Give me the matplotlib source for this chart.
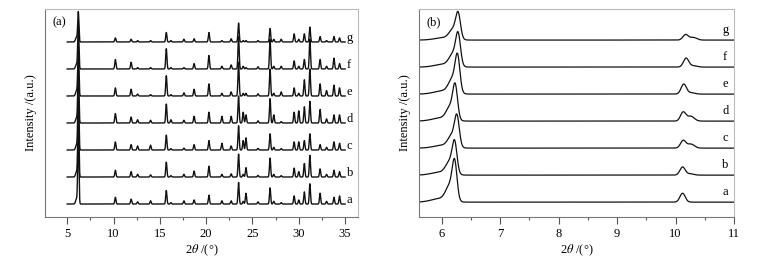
import matplotlib
matplotlib.use("Agg")
import matplotlib.pyplot as plt
from matplotlib.ticker import MultipleLocator
import numpy as np

plt.rcParams['font.family'] = ['Liberation Serif', 'DejaVu Serif']
plt.rcParams['mathtext.fontset'] = 'stix'

samples = ['a', 'b', 'c', 'd', 'e', 'f', 'g']

# panel (a): peak positions (2theta) and heights per sample, in units of the stacking offset
peaks_a = [6.2, 10.2, 11.9, 12.6, 14.0, 15.7, 16.2, 17.6, 18.7, 20.3, 21.7, 22.7, 23.5, 24.0, 24.3,
           25.6, 26.9, 27.3, 28.1, 29.5, 30.0, 30.6, 31.2, 32.3, 33.0, 33.8, 34.4]
heights_a = {
    'a': [2.6, 0.25, 0.18, 0.08, 0.12, 0.50, 0.05, 0.12, 0.15, 0.33, 0.12, 0.12, 0.80, 0.10, 0.40,
          0.08, 0.60, 0.10, 0.05, 0.30, 0.15, 0.45, 0.75, 0.40, 0.10, 0.25, 0.30],
    'b': [2.4, 0.25, 0.20, 0.10, 0.08, 0.55, 0.05, 0.10, 0.22, 0.40, 0.10, 0.12, 0.85, 0.10, 0.35,
          0.06, 0.70, 0.10, 0.05, 0.33, 0.20, 0.50, 0.80, 0.30, 0.10, 0.25, 0.20],
    'c': [2.2, 0.30, 0.20, 0.15, 0.18, 0.55, 0.05, 0.07, 0.20, 0.35, 0.25, 0.15, 0.90, 0.35, 0.45,
          0.06, 0.60, 0.10, 0.05, 0.30, 0.30, 0.35, 0.60, 0.20, 0.10, 0.30, 0.25],
    'd': [2.0, 0.35, 0.22, 0.12, 0.10, 0.70, 0.12, 0.10, 0.25, 0.40, 0.25, 0.25, 1.00, 0.40, 0.30,
          0.08, 0.90, 0.30, 0.05, 0.40, 0.45, 0.60, 0.80, 0.50, 0.15, 0.30, 0.30],
    'e': [1.8, 0.30, 0.25, 0.07, 0.05, 0.75, 0.05, 0.12, 0.25, 0.45, 0.10, 0.15, 1.25, 0.10, 0.10,
          0.08, 1.00, 0.10, 0.15, 0.30, 0.10, 0.60, 1.00, 0.45, 0.20, 0.40, 0.30],
    'f': [1.6, 0.35, 0.25, 0.05, 0.05, 0.75, 0.05, 0.05, 0.20, 0.50, 0.10, 0.15, 1.20, 0.10, 0.05,
          0.08, 1.10, 0.10, 0.10, 0.30, 0.10, 0.35, 1.10, 0.35, 0.10, 0.40, 0.20],
    'g': [1.1, 0.15, 0.10, 0.05, 0.05, 0.35, 0.05, 0.10, 0.12, 0.35, 0.05, 0.12, 0.70, 0.05, 0.05,
          0.05, 0.50, 0.10, 0.10, 0.30, 0.10, 0.30, 0.55, 0.20, 0.05, 0.20, 0.15],
}

# panel (b): main low-angle peak and the ~10.1 degree peak
main_pos_b = [6.22, 6.22, 6.26, 6.23, 6.27, 6.28, 6.28]
main_h_b = [1.60, 1.30, 1.25, 1.40, 1.50, 1.30, 1.05]
second_pos_b = [10.12, 10.12, 10.13, 10.13, 10.14, 10.18, 10.17]
second_h_b = [0.33, 0.30, 0.28, 0.33, 0.37, 0.33, 0.20]
second_sh_b = [0.00, 0.05, 0.15, 0.18, 0.05, 0.05, 0.10]


def gauss(x, p, h, s):
    return h * np.exp(-(x - p) ** 2 / (2 * s ** 2))


fig = plt.figure(figsize=(7.57, 2.61), dpi=100)
ax1 = fig.add_axes([0.0594, 0.1686, 0.4136, 0.7969])
ax2 = fig.add_axes([0.5535, 0.1686, 0.4161, 0.7969])

# (a)
x = np.linspace(5, 35, 3000)
for i, s in enumerate(samples):
    y = np.zeros_like(x)
    for p, h in zip(peaks_a, heights_a[s]):
        y += gauss(x, p, h, 0.065)
    y += gauss(x, 6.0, 0.18, 0.1)
    ax1.plot(x, y + i, color='#111111', lw=1.0)
    ax1.text(35.2, i + 0.15, s, fontsize=9, va='center', ha='left')
ax1.set_xlim(2.6, 36.4)
ax1.set_ylim(-0.48, 7.22)
ax1.xaxis.set_major_locator(MultipleLocator(5))
ax1.xaxis.set_minor_locator(MultipleLocator(2.5))
ax1.text(0.025, 0.935, '(a)', transform=ax1.transAxes, fontsize=9, va='center')

# (b)
x = np.linspace(5.6, 11, 3000)
for i, s in enumerate(samples):
    p, h = main_pos_b[i], main_h_b[i]
    y = gauss(x, p, h * 0.8, 0.04)
    y += gauss(x, p - 0.08, h * 0.35, 0.07)
    y += gauss(x, p - 0.25, h * 0.08, 0.15)
    p2 = second_pos_b[i]
    y += gauss(x, p2, second_h_b[i], 0.045)
    y += gauss(x, p2 + 0.13, second_sh_b[i], 0.06)
    ax2.plot(x, y + i, color='#111111', lw=0.9)
    ax2.text(10.8, i + 0.38, s, fontsize=9, va='center', ha='left')
ax2.set_xlim(5.61, 11)
ax2.set_ylim(-0.55, 7.15)
ax2.xaxis.set_major_locator(MultipleLocator(1))
ax2.xaxis.set_minor_locator(MultipleLocator(0.5))
ax2.text(0.025, 0.935, '(b)', transform=ax2.transAxes, fontsize=9, va='center')

for ax in (ax1, ax2):
    ax.set_yticks([])
    ax.spines['left'].set_color('#777777')
    ax.spines['bottom'].set_color('#777777')
    ax.spines['top'].set_color('#bbbbbb')
    ax.spines['right'].set_color('#bbbbbb')
    ax.tick_params(axis='x', which='major', direction='out', length=5, width=0.8,
                   color='#555555', labelsize=9, pad=3)
    ax.tick_params(axis='x', which='minor', direction='out', length=2.5, width=0.8,
                   color='#555555')
    ax.set_xlabel(r'2$\theta$ /(°)', fontsize=9, labelpad=2)
    ax.set_ylabel('Intensity /(a.u.)', fontsize=9, labelpad=6)

fig.savefig('out.png', dpi=100)
